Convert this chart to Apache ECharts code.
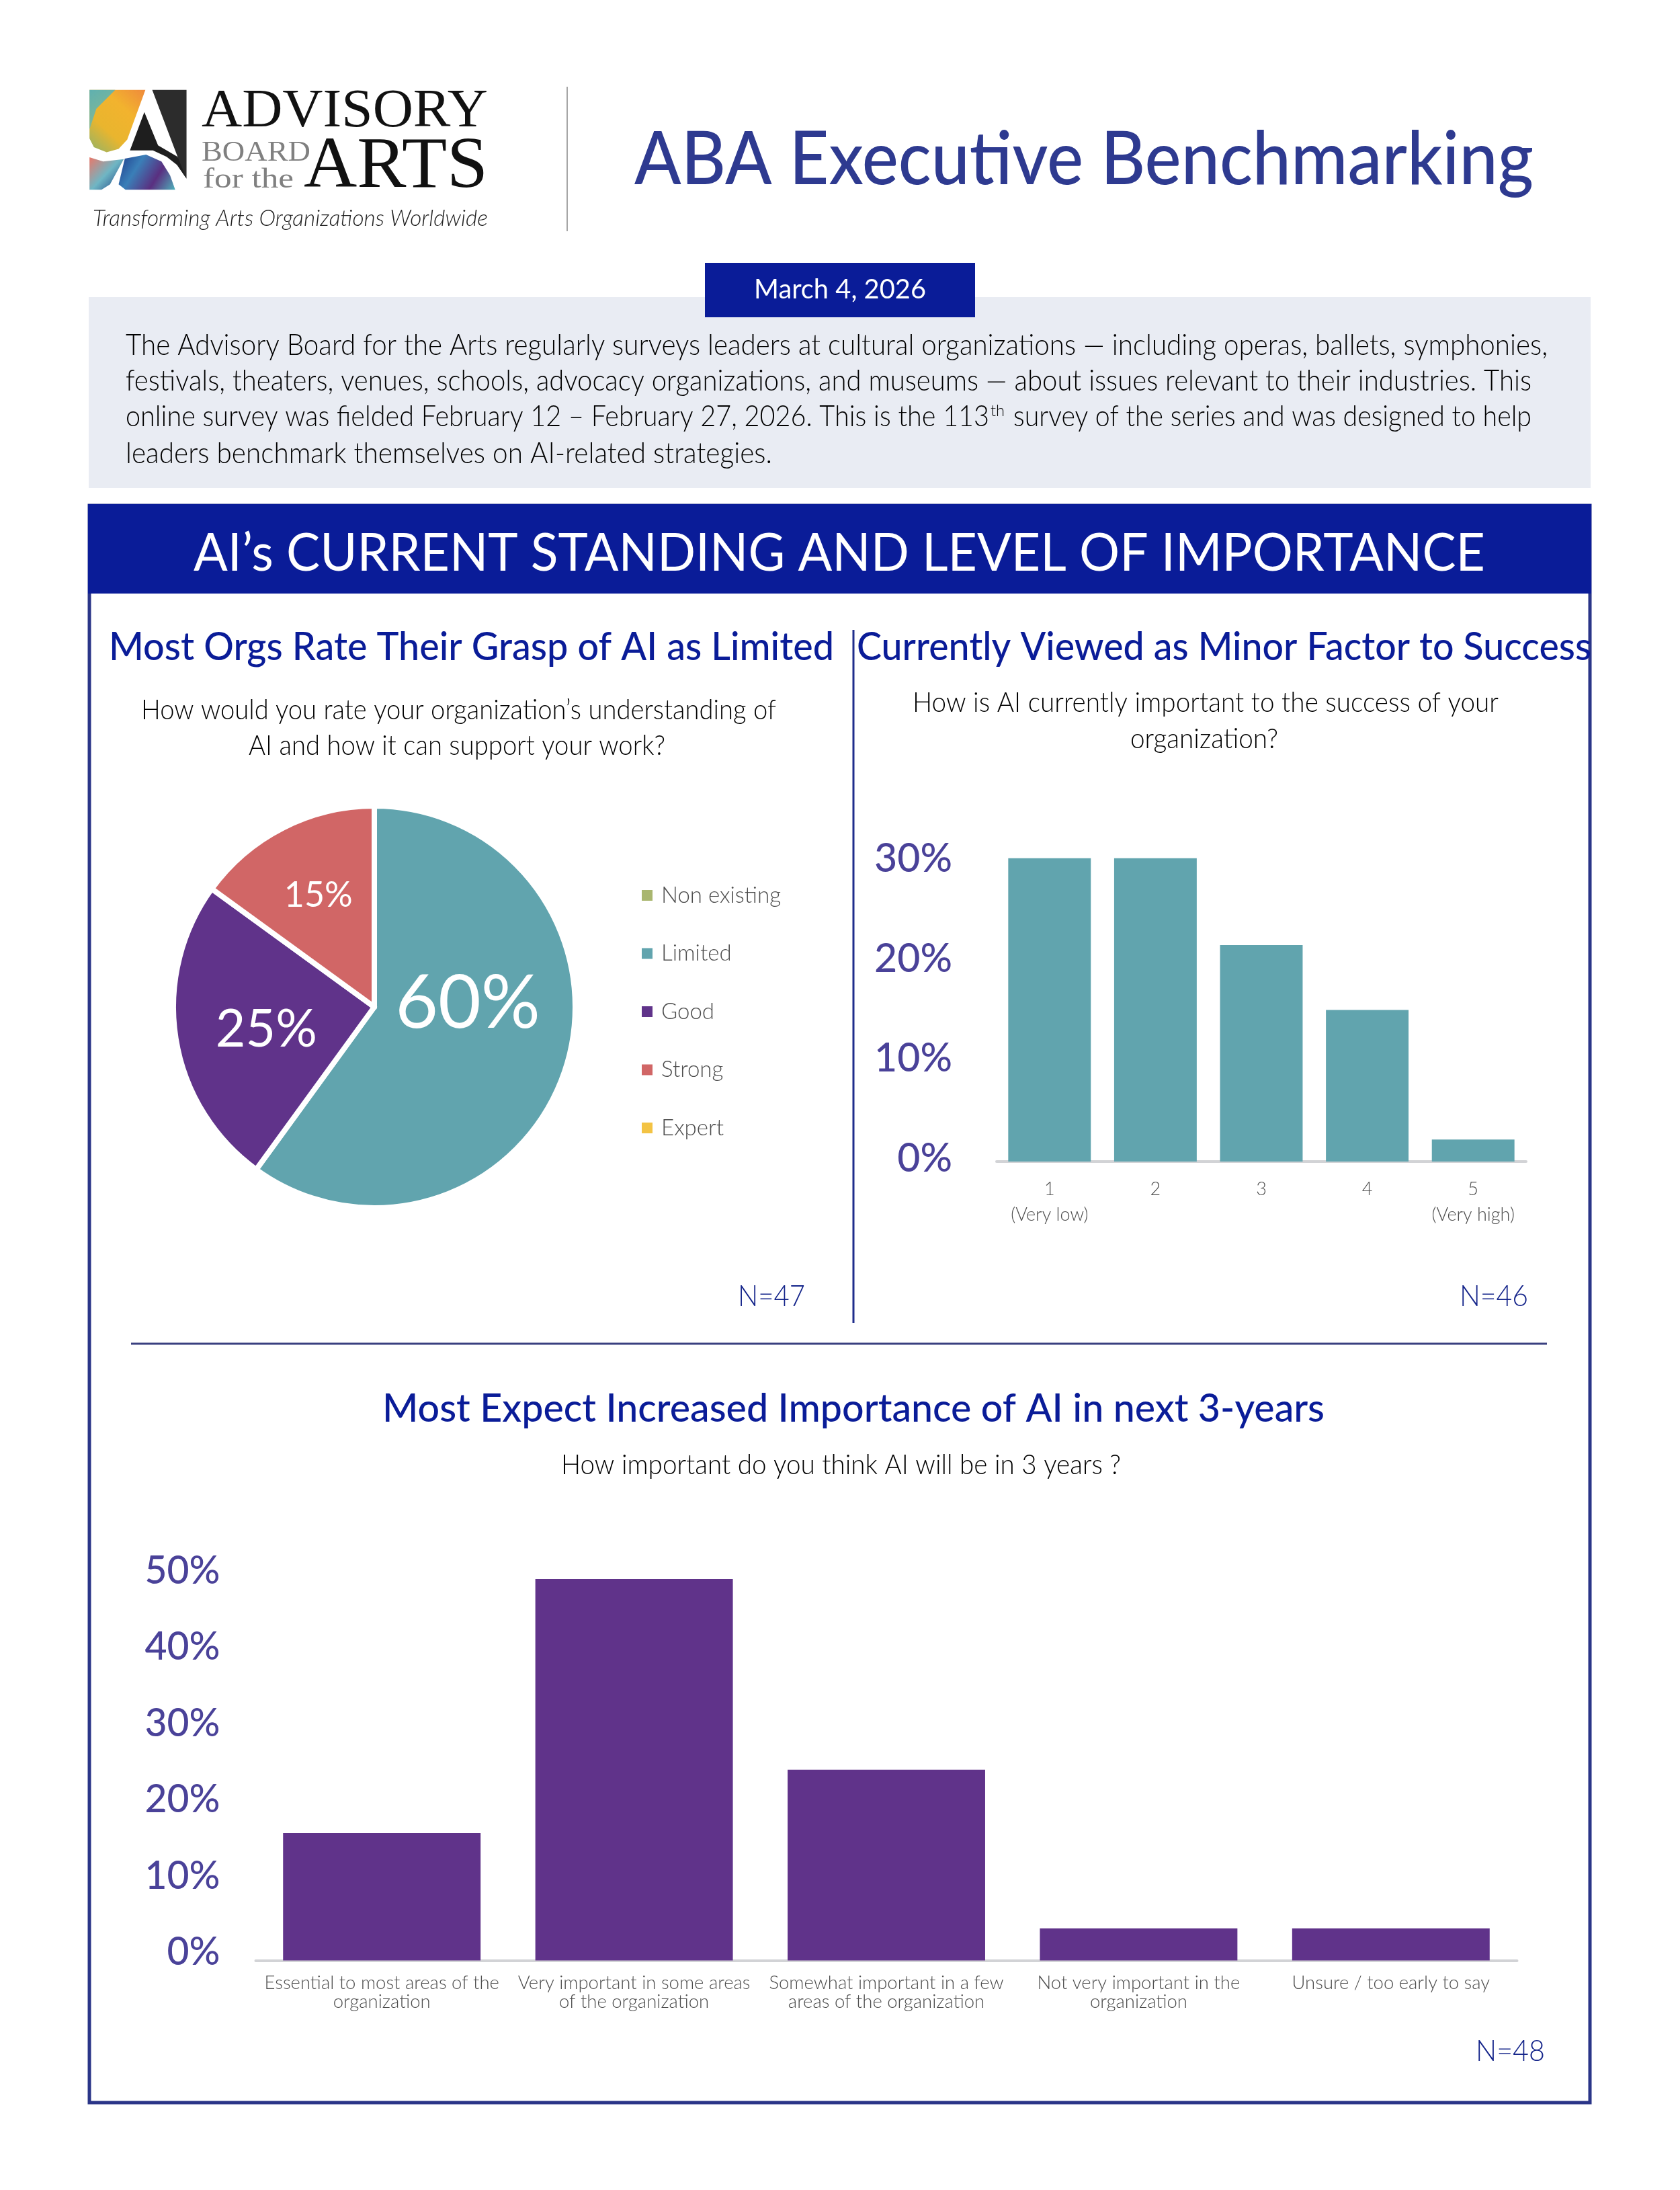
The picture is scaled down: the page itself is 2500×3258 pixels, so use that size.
<!DOCTYPE html>
<html><head><meta charset="utf-8">
<style>html,body{margin:0;padding:0;background:#fff}#c{width:2500px;height:3258px}</style>
<script src="https://cdn.jsdelivr.net/npm/echarts@6/dist/echarts.min.js"></script>
</head><body><div id="c"></div>
<script>
// ---- data ----
const pieCategories = ['Non existing','Limited','Good','Strong','Expert'];
const pieValues = [0,60,25,15,0];
const pieColors = ['#a9b66f','#61a4ae','#60338a','#d16666','#f3c344'];
const nowCategories = ['1\n(Very low)','2','3','4','5\n(Very high)'];
const nowValues = [30.4,30.4,21.7,15.2,2.2];
const futureCategories = ['Essential to most areas of the\norganization','Very important in some areas\nof the organization','Somewhat important in a few\nareas of the organization','Not very important in the\norganization','Unsure / too early to say'];
const futureValues = [16.7,50,25,4.2,4.2];

// ---- text helpers ----
const FONT='Lato';
const mc=document.createElement('canvas').getContext('2d');
function T(text,x1,x2,base,size,color,weight,family,style,k){
  const fam=family||FONT, w=weight||300, st=style||'normal';
  const font=st+' '+w+' '+size+'px "'+fam+'"';
  mc.font=font;
  const sx=(x2-x1)/mc.measureText(text).width;
  return {type:'text',x:x1,y:base-(k===undefined?0.30:k)*size,scaleX:sx,silent:true,z:10,
    style:{text:text,x:0,y:0,fill:color,font:font,align:'left',verticalAlign:'middle'}};
}
function rect(x,y,w,h,fill){return {type:'rect',silent:true,shape:{x,y,width:w,height:h},style:{fill:fill}};}
function line(x1,y1,x2,y2,c,w){return {type:'line',silent:true,shape:{x1,y1,x2,y2},style:{stroke:c,lineWidth:w}};}
function logoPoly(pts,fill){ // logo artwork, not chart data
  return {type:'polygon',silent:true,shape:{points:pts.map(p=>[100+p[0]/1.96,90+p[1]/2.93])},style:{fill:fill}};
}
function grad(x,y,x2,y2,stops){return {type:'linear',x,y,x2,y2,colorStops:stops.map((c,i)=>({offset:i/(stops.length-1),color:c}))};}

const NAVY='#0a1c98', INK='#000', GREY='#4d4d4d', TICK='#4a4299';
const graphics=[
  // logo
  logoPoly([[65,128],[228,128],[175,345],[150,385],[115,400],[78,378],[65,340]],grad(1,0,0,1,['#ef8a3c','#f2b32e','#e9b52e','#8fb36a'])),
  logoPoly([[65,128],[140,128],[85,210],[65,300]],grad(0,0,1,1,['#5fb0b0','#8fbb8a'])),
  logoPoly([[248,128],[348,128],[348,515],[328,470],[322,420]],'#2c2c2c'),
  logoPoly([[225,225],[265,370],[322,420],[348,515],[320,455],[290,420],[250,392],[183,392]],'#1e1e1e'),
  logoPoly([[65,422],[105,440],[165,430],[125,540],[100,563],[65,563]],grad(0,0,1,1,['#e9786a','#6fb6c4','#1c3c80'])),
  logoPoly([[168,428],[230,410],[275,440],[300,500],[315,563],[170,563],[150,540],[158,490]],grad(0,0,1,1,['#1e3a8a','#3a7fb8','#5a2f80','#4fb2bc'])),
  T('ADVISORY',300,726,189,80,'#111','400','Liberation Serif','normal',0.28),
  T('BOARD',300,462,240,42,'#808080','400','Liberation Serif','normal',0.28),
  T('for the',302,437,280,42,'#808080','400','Liberation Serif','normal',0.28),
  T('ARTS',452,726,280,107,'#111','400','Liberation Serif','normal',0.28),
  T('Transforming Arts Organizations Worldwide',138,726,335,34,'#222','300',FONT,'italic'),
  line(844,129,844,344,'#a6a6a6',2),
  // title
  T('ABA Executive Benchmarking',944,2282,272,110,'#2e3a90','500'),
  // intro box
  rect(132,442,2235,284,'#e9ecf3'),
  rect(1049,391,402,81,NAVY),
  T('March 4, 2026',1122,1378,443,40,'#fff','400'),
  T('The Advisory Board for the Arts regularly surveys leaders at cultural organizations — including operas, ballets, symphonies,',187,2303,527,43,INK),
  T('festivals, theaters, venues, schools, advocacy organizations, and museums — about issues relevant to their industries. This',187,2279,580,43,INK),
  T('online survey was fielded February 12 – February 27, 2026. This is the 113',187,1472,633,43,INK),
  T('th',1474,1495,618,24,INK),
  T('survey of the series and was designed to help',1508,2279,633,43,INK),
  T('leaders benchmark themselves on AI-related strategies.',187,1149,688,43,INK),
  // frame and band
  {type:'rect',silent:true,shape:{x:133,y:752,width:2233,height:2376},style:{fill:'none',stroke:'#2a3588',lineWidth:5}},
  rect(131,750,2237,133,NAVY),
  T('AI’s CURRENT STANDING AND LEVEL OF IMPORTANCE',288,2210,847,78,'#fff','400'),
  // left panel text
  T('Most Orgs Rate Their Grasp of AI as Limited',162,1241,981,57,NAVY,'500'),
  T('How would you rate your organization’s understanding of',210,1155,1069,42,INK),
  T('AI and how it can support your work?',370,990,1122,42,INK),
  line(1270,937,1270,1968,'#1f2d8c',3),
  // right panel text
  T('Currently Viewed as Minor Factor to Success',1275,2368,981,57,NAVY,'500'),
  T('How is AI currently important to the success of your',1358,2230,1058,42,INK),
  T('organization?',1682,1902,1112,42,INK),
  T('N=47',1098,1198,1942,43,'#14248a'),
  T('N=46',2172,2274,1942,43,'#14248a'),
  line(195,1999,2302,1999,'#3a4080',3),
  // bottom panel text
  T('Most Expect Increased Importance of AI in next 3-years',569,1971,2114,57,NAVY,'500'),
  T('How important do you think AI will be in 3 years ?',835,1668,2192,42,INK),
  T('N=48',2196,2299,3065,43,'#14248a')
];

const chart=echarts.init(document.getElementById('c'),null,{renderer:'canvas',width:2500,height:3258});
const labelSizes=[0,110,77,52,0];
const labelShift=[[0,0],[-6,-52],[-10,10],[-14,-30],[0,0]];
const axisBase=()=>({type:'category',axisLine:{lineStyle:{color:'#d2d3d6',width:4}},axisTick:{show:false}});
chart.setOption({
  animation:false,
  backgroundColor:'#fff',
  graphic:{elements:graphics},
  legend:{orient:'vertical',left:955,top:1312,padding:0,icon:'rect',itemWidth:16,itemHeight:16,itemGap:46.5,
    itemStyle:{borderWidth:0},data:pieCategories,selectedMode:false,
    textStyle:{color:GREY,fontFamily:FONT,fontWeight:300,fontSize:33,lineHeight:40,padding:[0,0,0,8]}},
  grid:[
    {left:1483,width:788,top:1728-35*14.84,height:35*14.84},
    {left:380.5,width:1877,top:2916.5-55*11.35,height:55*11.35}
  ],
  xAxis:[
    Object.assign(axisBase(),{gridIndex:0,data:nowCategories,axisLabel:{color:GREY,fontFamily:FONT,fontWeight:300,fontSize:27,lineHeight:38,margin:22,interval:0}}),
    Object.assign(axisBase(),{gridIndex:1,data:futureCategories,axisLabel:{color:GREY,fontFamily:FONT,fontWeight:300,fontSize:27.5,lineHeight:28,margin:20,interval:0}})
  ],
  yAxis:[
    {type:'value',gridIndex:0,min:0,max:35,interval:10,axisLine:{show:false},axisTick:{show:false},splitLine:{show:false},
     axisLabel:{showMaxLabel:false,formatter:'{value}%',color:TICK,fontFamily:FONT,fontWeight:500,fontSize:59,margin:66,verticalAlign:'bottom',lineHeight:9}},
    {type:'value',gridIndex:1,min:0,max:55,interval:10,axisLine:{show:false},axisTick:{show:false},splitLine:{show:false},
     axisLabel:{showMaxLabel:false,formatter:'{value}%',color:TICK,fontFamily:FONT,fontWeight:500,fontSize:57,margin:53,verticalAlign:'bottom',lineHeight:23}}
  ],
  series:[
    {type:'pie',center:[557,1498],radius:[0,299],startAngle:90,clockwise:true,
     data:pieCategories.map((n,i)=>({name:n,value:pieValues[i],itemStyle:{color:pieColors[i]},
       label:{show:pieValues[i]>0,fontSize:labelSizes[i]}})),
     itemStyle:{borderColor:'#fff',borderWidth:8},
     label:{position:'inside',formatter:'{c}%',color:'#fff',fontFamily:FONT,fontWeight:400},
     labelLine:{show:false},
     labelLayout:(p)=>({dx:labelShift[p.dataIndex][0],dy:labelShift[p.dataIndex][1]})},
    {type:'bar',xAxisIndex:0,yAxisIndex:0,data:nowValues,barCategoryGap:'22%',itemStyle:{color:'#61a4ae'}},
    {type:'bar',xAxisIndex:1,yAxisIndex:1,data:futureValues,barCategoryGap:'21.7%',itemStyle:{color:'#60338a'}}
  ]
});
</script></body></html>
